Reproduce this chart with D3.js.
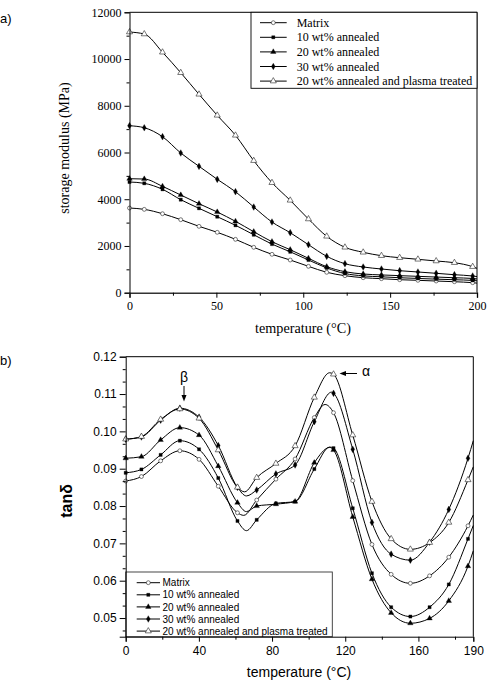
<!DOCTYPE html>
<html><head><meta charset="utf-8">
<script src="https://cdn.jsdelivr.net/npm/d3@7"></script>
<style>body{margin:0;background:#fff} svg{display:block}</style>
</head><body>
<svg id="c" width="492" height="684"></svg>
<script>
// ---------------- data ----------------
const seriesNames = ["Matrix","10 wt% annealed","20 wt% annealed","30 wt% annealed","20 wt% annealed and plasma treated"];

// panel a: storage modulus (MPa) vs temperature (°C), values at marker positions
const tempA = [0, 8.5, 19, 29.5, 40, 50.5, 61, 71.5, 82, 92.5, 103, 113.5, 124, 134.5, 145, 155.5, 166, 176.5, 187, 197.5];
const modMatrix = [3624,3567,3380,3124,2840,2584,2284,1943,1643,1399,1129,873,728,642,600,556,530,500,470,428];
const mod10     = [4737,4681,4424,3980,3611,3252,2884,2480,2080,1750,1400,1060,820,720,680,640,610,580,555,525];
const mod20     = [4878,4865,4552,4180,3808,3453,3055,2610,2182,1840,1472,1113,899,800,760,730,700,670,640,610];
const mod30     = [7146,7060,6675,5978,5409,4852,4322,3667,3025,2567,2054,1558,1241,1100,1014,941,886,830,770,715];
const modPlasma = [11155,11070,10290,9414,8490,7590,6735,5650,4707,3953,3153,2413,1943,1729,1583,1498,1429,1356,1284,1113];
// value of each curve where it meets the 200 °C edge
const modEnd = [410, 510, 590, 690, 1043];
const ticksA_x = [0, 50, 100, 150, 200];
const ticksA_y = [0, 2000, 4000, 6000, 8000, 10000, 12000];

// panel b: tan delta vs temperature (°C), values at marker positions
const tempB = [0, 8.6, 19.1, 29.6, 40.1, 50.6, 61.1, 71.6, 82.1, 92.6, 103.1, 113.6, 124.1, 134.6, 145.1, 155.6, 166.1, 176.6, 187.1];
const tanMatrix = [0.0867,0.0879,0.0921,0.0948,0.0925,0.0853,0.0782,0.0816,0.0872,0.0926,0.1037,0.1050,0.0868,0.0697,0.0617,0.0593,0.0613,0.0663,0.0747];
const tan10     = [0.0889,0.0898,0.0937,0.0975,0.0952,0.0875,0.0760,0.0763,0.0807,0.0812,0.0899,0.0955,0.0794,0.0620,0.0529,0.0504,0.0529,0.0590,0.0712];
const tan20     = [0.0928,0.0932,0.0977,0.1010,0.0990,0.0907,0.0809,0.0800,0.0805,0.0812,0.0916,0.0950,0.0771,0.0604,0.0514,0.0486,0.0499,0.0546,0.0639];
const tan30     = [0.0979,0.0985,0.1030,0.1062,0.1038,0.0962,0.0850,0.0843,0.0886,0.0910,0.1026,0.1102,0.0952,0.0756,0.0671,0.0655,0.0703,0.0791,0.0928];
const tanPlasma = [0.0979,0.0986,0.1032,0.1060,0.1035,0.0950,0.0850,0.0876,0.0914,0.0961,0.1091,0.1153,0.0990,0.0812,0.0712,0.0684,0.0702,0.0756,0.0870];
// extra curve points read between markers (minima, peaks, right edge)
const knotsMatrix = [[64.5,0.0775],[109,0.1072],[190,0.0776]];
const knots10     = [[66,0.0734],[111.5,0.0958],[190,0.0748]];
const knots20     = [[66,0.0785],[111.5,0.0957],[190,0.0680]];
const knots30     = [[66,0.0827],[112.5,0.1105],[190,0.0975]];
const knotsPlasma = [[65,0.0838],[111.5,0.1157],[190,0.0905]];
const ticksB_x = [0, 40, 80, 120, 160, 190];
const ticksB_y = [0.05, 0.06, 0.07, 0.08, 0.09, 0.10, 0.11, 0.12];

// ---------------- drawing ----------------
const svg = d3.select("#c");
const SERIF = "'Liberation Serif','Times New Roman',serif";
const SANS = "'Liberation Sans',Arial,sans-serif";

const symDefs = [
  {type: d3.symbolCircle, size: 12, open: true},
  {type: d3.symbolSquare, size: 10, open: false},
  {type: d3.symbolTriangle, size: 13, open: false},
  {type: d3.symbolDiamond, size: 13, open: false},
  {type: d3.symbolTriangle, size: 16, open: true}
];
function drawMarker(g, x, y, i) {
  const s = symDefs[i];
  g.append("path")
    .attr("d", d3.symbol().type(s.type).size(s.size)())
    .attr("transform", `translate(${x},${y})`)
    .attr("fill", s.open ? "#fff" : "#000")
    .attr("stroke", s.open ? "#222" : "#000")
    .attr("stroke-width", s.open ? 0.6 : 0.3);
}
function styleAxis(g, font, size) {
  g.select(".domain").attr("stroke", "#000").attr("stroke-width", 1);
  g.selectAll(".tick line").attr("stroke", "#000").attr("stroke-width", 1);
  g.selectAll(".tick text").attr("fill", "#000").attr("font-family", font).attr("font-size", size);
}

// ===== panel a =====
const xa = d3.scaleLinear().domain([0, 200]).range([129.5, 477]);
const ya = d3.scaleLinear().domain([0, 12000]).range([292.7, 12.3]);
const gA = svg.append("g");
const seriesA = [modMatrix, mod10, mod20, mod30, modPlasma];
const lineA = d3.line().x(d => xa(d[0])).y(d => ya(d[1])).curve(d3.curveMonotoneX);
seriesA.forEach((vals, i) => {
  const pts = tempA.map((t, k) => [t, vals[k]]).concat([[200, modEnd[i]]]);
  gA.append("path").attr("d", lineA(pts)).attr("fill", "none").attr("stroke", "#000").attr("stroke-width", 1);
});
seriesA.forEach((vals, i) => {
  tempA.forEach((t, k) => drawMarker(gA, xa(t), ya(vals[k]), i));
});
// frame
gA.append("line").attr("x1", xa(0)).attr("x2", xa(200)).attr("y1", ya(12000)).attr("y2", ya(12000)).attr("stroke", "#000");
gA.append("line").attr("x1", xa(200)).attr("x2", xa(200)).attr("y1", ya(12000)).attr("y2", ya(0)).attr("stroke", "#000");
// axes
let ax = gA.append("g").attr("transform", `translate(${xa(0)},0)`)
  .call(d3.axisLeft(ya).tickValues(ticksA_y).tickSize(5).tickPadding(3).tickFormat(d3.format("d")));
styleAxis(ax, SERIF, 12);
ax = gA.append("g").attr("transform", `translate(${xa(0)},0)`)
  .call(d3.axisLeft(ya).tickValues(d3.range(1000, 12000, 2000)).tickSize(3).tickFormat(""));
styleAxis(ax, SERIF, 12); ax.select(".domain").remove();
ax = gA.append("g").attr("transform", `translate(0,${ya(0)})`)
  .call(d3.axisBottom(xa).tickValues(ticksA_x).tickSize(5).tickPadding(4).tickFormat(d3.format("d")));
styleAxis(ax, SERIF, 12); ax.select(".domain").attr("stroke", "#333").attr("stroke-width", 1.4);
ax = gA.append("g").attr("transform", `translate(0,${ya(0)})`)
  .call(d3.axisBottom(xa).tickValues([25, 75, 125, 175]).tickSize(3).tickFormat(""));
styleAxis(ax, SERIF, 12); ax.select(".domain").remove();
// titles
gA.append("text").attr("transform", "translate(69,148) rotate(-90)").attr("text-anchor", "middle")
  .attr("font-family", SERIF).attr("font-size", 14).text("storage modulus (MPa)");
gA.append("text").attr("x", 303).attr("y", 333).attr("text-anchor", "middle")
  .attr("font-family", SERIF).attr("font-size", 14.2).text("temperature (\u00B0C)");
svg.append("text").attr("x", 0).attr("y", 23).attr("font-family", SANS).attr("font-size", 13).text("a)");
// legend a
gA.append("rect").attr("x", 251).attr("y", 12.3).attr("width", xa(200) - 251).attr("height", 76)
  .attr("fill", "#fff").attr("stroke", "#000").attr("stroke-width", 0.9);
seriesNames.forEach((n, i) => {
  const y = 22.7 + i * 14.6;
  gA.append("line").attr("x1", 260).attr("x2", 286.7).attr("y1", y).attr("y2", y).attr("stroke", "#000");
  drawMarker(gA, 273.3, y, i);
  gA.append("text").attr("x", 296.7).attr("y", y + 4).attr("font-family", SERIF).attr("font-size", 12).text(n);
});

// ===== panel b =====
const xb = d3.scaleLinear().domain([0, 190]).range([125.7, 473.3]);
const yb = d3.scaleLinear().domain([0.045, 0.12]).range([636.7, 356.7]);
const gB = svg.append("g");
const seriesB = [tanMatrix, tan10, tan20, tan30, tanPlasma];
const knotsB = [knotsMatrix, knots10, knots20, knots30, knotsPlasma];
const lineB = d3.line().x(d => xb(d[0])).y(d => yb(d[1])).curve(d3.curveMonotoneX);
seriesB.forEach((vals, i) => {
  const pts = tempB.map((t, k) => [t, vals[k]]).concat(knotsB[i]).sort((a, b) => a[0] - b[0]);
  gB.append("path").attr("d", lineB(pts)).attr("fill", "none").attr("stroke", "#000").attr("stroke-width", 1);
});
seriesB.forEach((vals, i) => {
  tempB.forEach((t, k) => drawMarker(gB, xb(t), yb(vals[k]), i));
});
// frame
gB.append("line").attr("x1", xb(0)).attr("x2", xb(190)).attr("y1", yb(0.12)).attr("y2", yb(0.12)).attr("stroke", "#000");
gB.append("line").attr("x1", xb(190)).attr("x2", xb(190)).attr("y1", yb(0.12)).attr("y2", yb(0.045)).attr("stroke", "#000");
// legend b (drawn before axes so the axis line stays on top)
gB.append("rect").attr("x", xb(0)).attr("y", 572).attr("width", 332.3 - xb(0)).attr("height", yb(0.045) - 572)
  .attr("fill", "#fff").attr("stroke", "#333").attr("stroke-width", 0.9);
seriesNames.forEach((n, i) => {
  const y = 582.7 + i * 12.1;
  gB.append("line").attr("x1", 136.7).attr("x2", 160).attr("y1", y).attr("y2", y).attr("stroke", "#000");
  drawMarker(gB, 148.3, y, i);
  gB.append("text").attr("x", 162.5).attr("y", y + 3.6).attr("font-family", SANS).attr("font-size", 10).text(n);
});
// axes
ax = gB.append("g").attr("transform", `translate(${xb(0)},0)`)
  .call(d3.axisLeft(yb).tickValues(ticksB_y).tickSize(6).tickPadding(3).tickFormat(d3.format(".2f")));
styleAxis(ax, SANS, 12);
const minorB = d3.range(1, 23).map(k => 0.12 - k * 0.01 / 3).filter(v => v > 0.045 && Math.abs(v * 100 - Math.round(v * 100)) > 0.01);
ax = gB.append("g").attr("transform", `translate(${xb(0)},0)`)
  .call(d3.axisLeft(yb).tickValues(minorB).tickSize(3).tickFormat(""));
styleAxis(ax, SANS, 12); ax.select(".domain").remove();
ax = gB.append("g").attr("transform", `translate(0,${yb(0.045)})`)
  .call(d3.axisBottom(xb).tickValues(ticksB_x).tickSize(5).tickPadding(5).tickFormat(d3.format("d")));
styleAxis(ax, SANS, 12);
ax = gB.append("g").attr("transform", `translate(0,${yb(0.045)})`)
  .call(d3.axisBottom(xb).tickValues([20, 60, 100, 140, 180]).tickSize(3).tickFormat(""));
styleAxis(ax, SANS, 12); ax.select(".domain").remove();
// titles
gB.append("text").attr("transform", "translate(72,501) rotate(-90)").attr("text-anchor", "middle")
  .attr("font-family", SANS).attr("font-size", 16).attr("font-weight", "bold").text("tan\u03B4");
gB.append("text").attr("x", 299).attr("y", 677).attr("text-anchor", "middle")
  .attr("font-family", SANS).attr("font-size", 14).text("temperature (\u00B0C)");
svg.append("text").attr("x", 0).attr("y", 365).attr("font-family", SANS).attr("font-size", 13).text("b)");
// annotations
gB.append("text").attr("x", 184).attr("y", 382).attr("text-anchor", "middle").attr("font-family", SANS).attr("font-size", 14).text("\u03B2");
gB.append("line").attr("x1", 184).attr("x2", 184).attr("y1", 386).attr("y2", 396).attr("stroke", "#000").attr("stroke-width", 1);
gB.append("path").attr("d", "M181.5,395 L186.5,395 L184,401.5 Z").attr("fill", "#000");
gB.append("text").attr("x", 366).attr("y", 376).attr("text-anchor", "middle").attr("font-family", SANS).attr("font-size", 14).text("\u03B1");
gB.append("line").attr("x1", 357).attr("x2", 345).attr("y1", 373.5).attr("y2", 373.5).attr("stroke", "#000").attr("stroke-width", 1);
gB.append("path").attr("d", "M346,371 L346,376 L339.5,373.5 Z").attr("fill", "#000");
</script>
</body></html>
